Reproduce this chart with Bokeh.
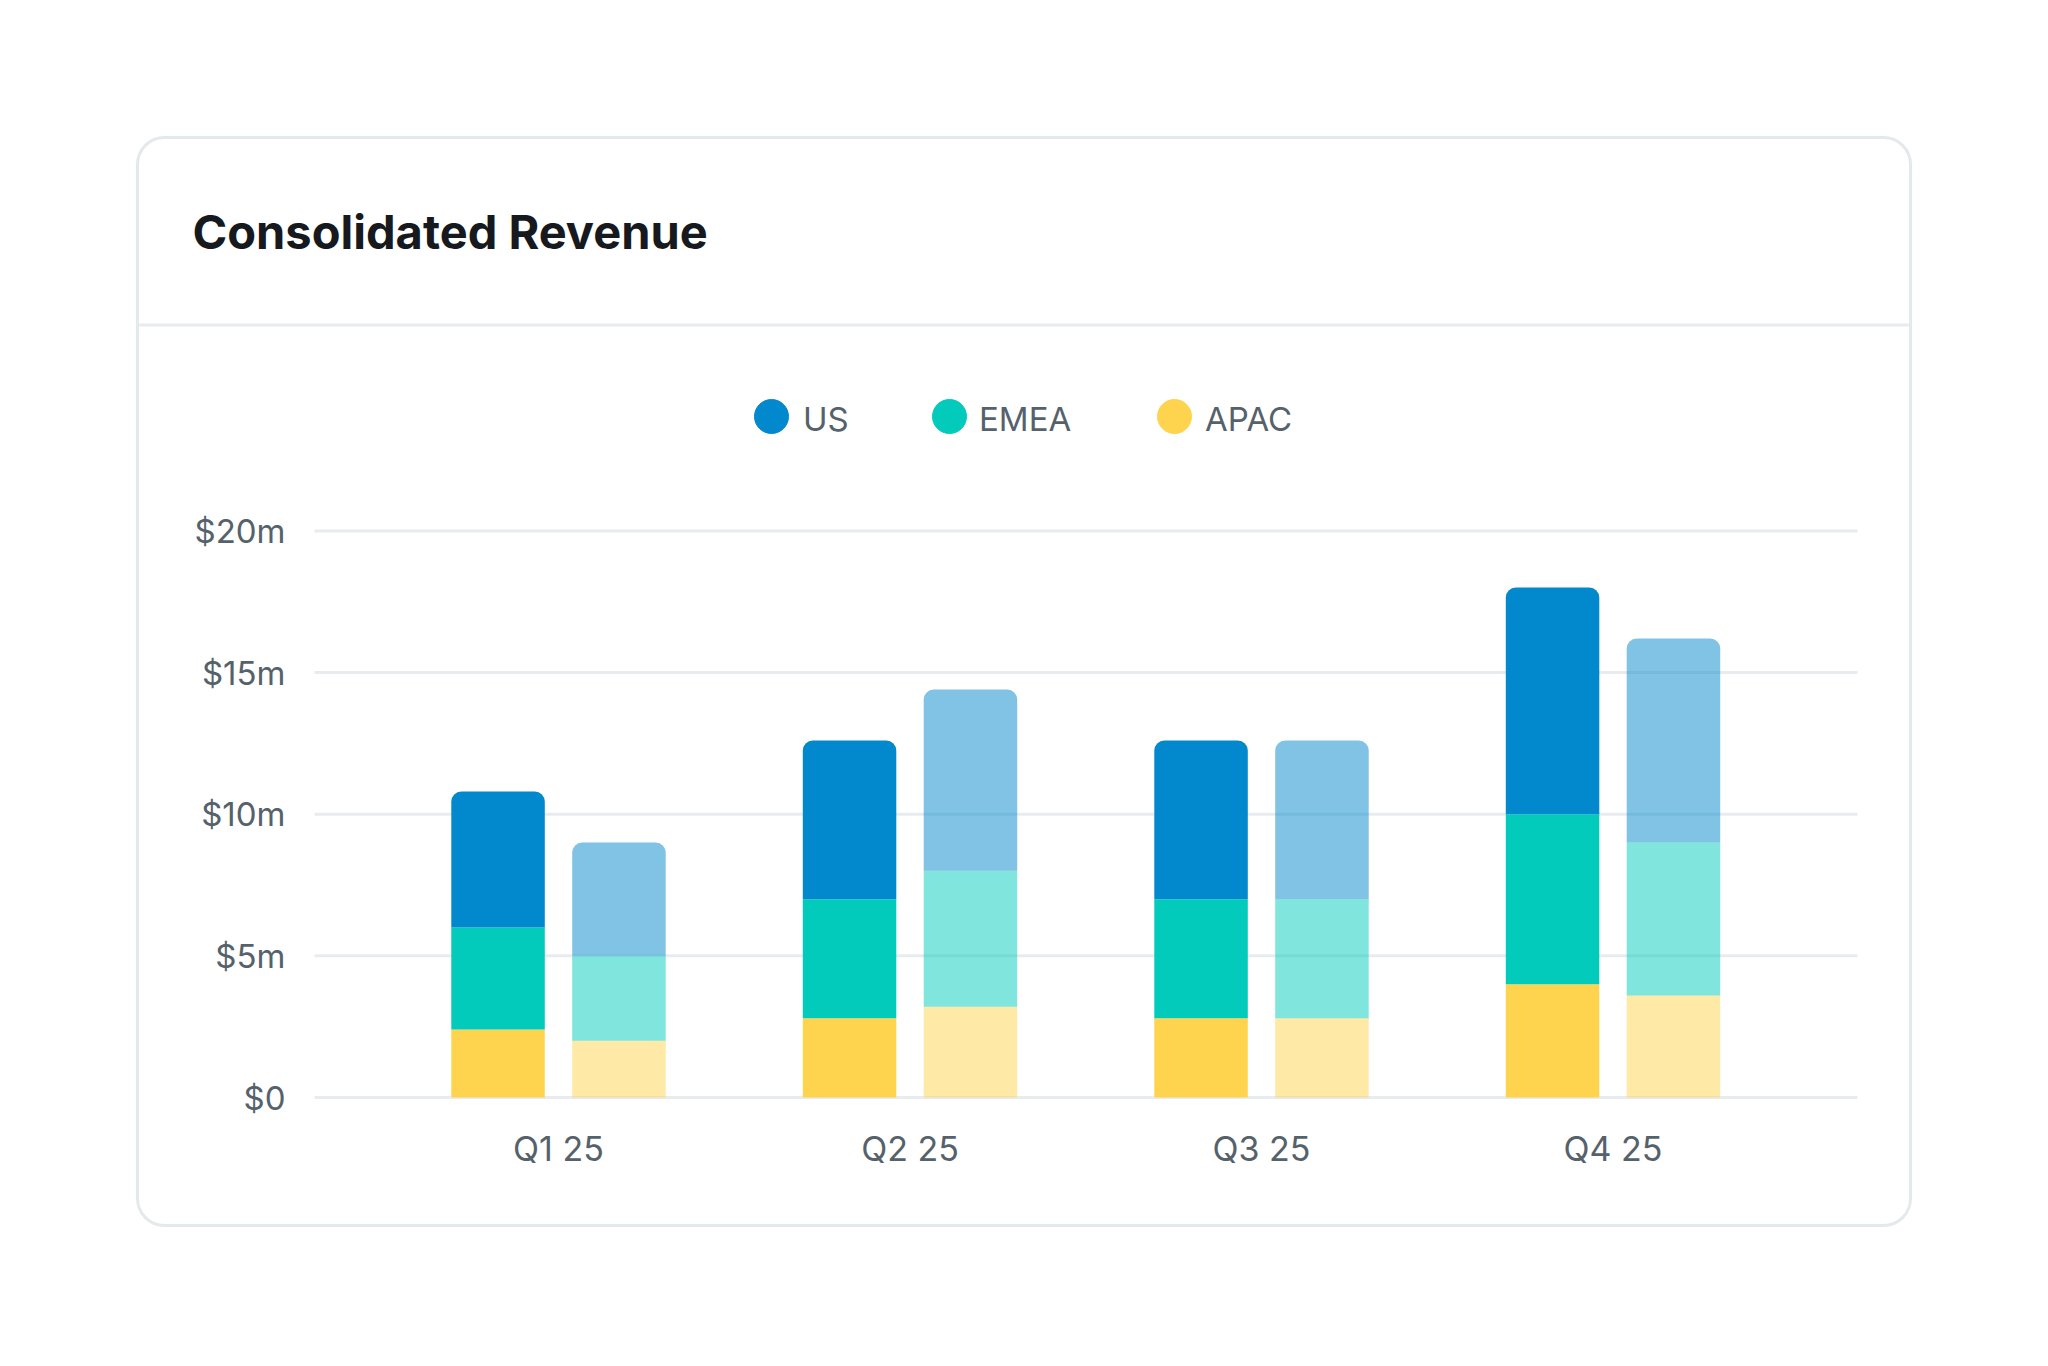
from bokeh.plotting import figure
from bokeh.models import ColumnDataSource, FixedTicker, Range1d, LinearScale
from bokeh.core.properties import value
from bokeh.transform import dodge
from bokeh.embed import file_html
from bokeh.resources import INLINE

# ---- data ----
quarters = ["Q1 25", "Q2 25", "Q3 25", "Q4 25"]
regions = ["US", "EMEA", "APAC"]
apac_current = [2.4, 2.8, 2.8, 4.0]
emea_current = [3.6, 4.2, 4.2, 6.0]
us_current = [4.8, 5.6, 5.6, 8.0]
apac_prior = [2.0, 3.2, 2.8, 3.6]
emea_prior = [3.0, 4.8, 4.2, 5.4]
us_prior = [4.0, 6.4, 5.6, 7.2]
y_ticks = [0, 5, 10, 15, 20]
y_tick_labels = ["$0", "$5m", "$10m", "$15m", "$20m"]
title_text = "Consolidated Revenue"

# ---- styles / layout constants ----
colors = {"US": "#0288cc", "EMEA": "#02cbbb", "APAC": "#fed44e"}
label_color = "#56626b"
grid_color = "#e8ecef"
border_color = "#e4e9ec"

W, H = 2048, 1366
FRAME_L, FRAME_R, FRAME_T, FRAME_B = 123, 2048, 40, 1306
ZERO_PX = 1097          # pixel row of $0
PX_PER_M = 28.33        # pixels per $1m
FIRST_Q_PX = 558        # pixel column of the first quarter's centre
UNIT_PX = 351.5         # pixels per quarter
GRID_X0, GRID_X1 = 314, 1857
CARD = dict(left=137, right=1910, top=137, bottom=1225)
SEP_Y = 324.5
TITLE_X, TITLE_Y = 192, 231
LEGEND_DOT_X = [771, 949, 1174]
LEGEND_TEXT_X = [802.5, 978.5, 1204.5]
LEGEND_DOT_Y, LEGEND_TEXT_Y = 416, 418.5

q_index = list(range(len(quarters)))


def stack_source(apac, emea, us):
    apac_top = list(apac)
    emea_top = [a + e for a, e in zip(apac, emea)]
    us_top = [t + u for t, u in zip(emea_top, us)]
    return ColumnDataSource(dict(qi=q_index, quarter=quarters, apac_top=apac_top,
                                 emea_top=emea_top, us_top=us_top))


src_current = stack_source(apac_current, emea_current, us_current)
src_prior = stack_source(apac_prior, emea_prior, us_prior)

p = figure(width=W, height=H,
           x_range=Range1d((FRAME_L - FIRST_Q_PX) / UNIT_PX, (FRAME_R - FIRST_Q_PX) / UNIT_PX),
           y_range=Range1d((ZERO_PX - FRAME_B) / PX_PER_M, (ZERO_PX - FRAME_T) / PX_PER_M),
           output_backend="svg", toolbar_location=None,
           min_border_left=FRAME_L, min_border_right=W - FRAME_R,
           min_border_top=FRAME_T, min_border_bottom=H - FRAME_B)
p.extra_x_ranges = {"px": Range1d(FRAME_L, FRAME_R)}
p.extra_x_scales = {"px": LinearScale()}
p.extra_y_ranges = {"px": Range1d(FRAME_B, FRAME_T)}
p.extra_y_scales = {"px": LinearScale()}
p.outline_line_color = None
p.background_fill_color = "white"
p.border_fill_color = "white"
p.xgrid.visible = False
p.ygrid.visible = False

# axes (drawn at fixed pixel locations)
yax = p.yaxis[0]
yax.ticker = FixedTicker(ticks=y_ticks)
yax.major_label_overrides = {t: l for t, l in zip(y_ticks, y_tick_labels)}
yax.x_range_name = "px"
yax.fixed_location = GRID_X0
yax.major_label_standoff = 23
yax.major_label_text_font_size = "33px"
xax = p.xaxis[0]
xax.ticker = FixedTicker(ticks=q_index)
xax.major_label_overrides = {i: q for i, q in zip(q_index, quarters)}
xax.y_range_name = "px"
xax.fixed_location = 1110
xax.major_label_standoff = 11
xax.major_label_text_font_size = "34px"
for ax in (xax, yax):
    ax.axis_line_color = None
    ax.major_tick_line_color = None
    ax.minor_tick_line_color = None
    ax.major_label_text_font = "Inter"
    ax.major_label_text_color = label_color

# card and header separator
p.quad(left=[CARD["left"]], right=[CARD["right"]], top=[CARD["top"]], bottom=[CARD["bottom"]],
       x_range_name="px", y_range_name="px", fill_color=None,
       line_color=border_color, line_width=3, border_radius=27)
p.segment(x0=[CARD["left"] + 1], x1=[CARD["right"] - 1], y0=[SEP_Y], y1=[SEP_Y],
          x_range_name="px", y_range_name="px", line_color=grid_color, line_width=3)

# horizontal grid lines
p.segment(x0=[GRID_X0] * len(y_ticks), x1=[GRID_X1] * len(y_ticks), y0=y_ticks, y1=y_ticks,
          x_range_name="px", line_color=grid_color, line_width=3)

BAR_W = 0.266
OFFSET = 0.172


def add_bars(src, offset, alpha):
    x = dodge("qi", offset)
    p.vbar(x=x, width=BAR_W, bottom=0, top="apac_top", source=src,
           fill_color=colors["APAC"], fill_alpha=alpha, line_color=None)
    p.vbar(x=x, width=BAR_W, bottom="apac_top", top="emea_top", source=src,
           fill_color=colors["EMEA"], fill_alpha=alpha, line_color=None)
    p.vbar(x=x, width=BAR_W, bottom="emea_top", top="us_top", source=src,
           fill_color=colors["US"], fill_alpha=alpha, line_color=None,
           border_radius=[10, 10, 0, 0])


add_bars(src_current, -OFFSET, 1.0)
add_bars(src_prior, OFFSET, 0.5)

# legend
p.scatter(x=LEGEND_DOT_X, y=[LEGEND_DOT_Y] * len(regions), marker="circle", size=34,
          color=[colors[r] for r in regions], x_range_name="px", y_range_name="px")
p.text(x=LEGEND_TEXT_X, y=[LEGEND_TEXT_Y] * len(regions), text=regions,
       x_range_name="px", y_range_name="px", text_font=value("Inter"),
       text_font_size="33px", text_color=label_color, text_baseline="alphabetic",
       text_align="left")

# title
p.text(x=[TITLE_X], y=[TITLE_Y], text=[title_text], x_range_name="px", y_range_name="px",
       text_font=value("Inter"), text_font_size="47px", text_font_style="bold",
       text_color="#16191d", text_baseline="alphabetic", text_align="left")

open("out.html", "w").write(file_html(p, INLINE, title=title_text))
